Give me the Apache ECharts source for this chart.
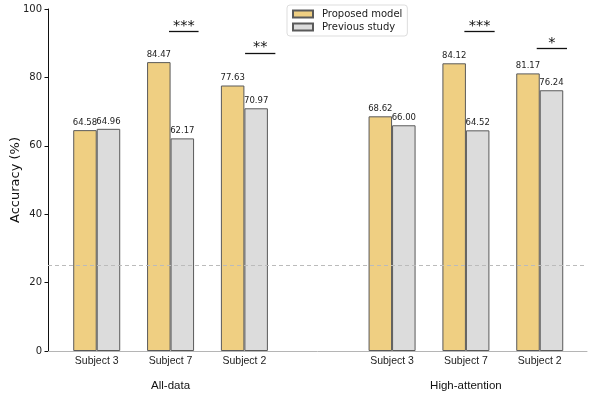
<!DOCTYPE html>
<html lang="en">
<head>
    <meta charset="UTF-8">
    <title>Accuracy chart</title>
    <script src="https://cdn.jsdelivr.net/npm/echarts@6/dist/echarts.min.js"></script>
    <style>
        html, body { margin: 0; padding: 0; background: #ffffff; }
        #main { width: 598px; height: 393px; }
    </style>
</head>
<body>
<div id="main"></div>
<script>
    // positions of the bar pairs on the x axis (3 is the gap between the two groups)
    var positions = [0, 1, 2, 4, 5, 6];
    var subjects = ['Subject 3', 'Subject 7', 'Subject 2', 'Subject 3', 'Subject 7', 'Subject 2'];
    var groupPos = [1, 5];
    var groupNames = ['All-data', 'High-attention'];
    var proposed = [64.58, 84.47, 77.63, 68.62, 84.12, 81.17];
    var previous = [64.96, 62.17, 70.97, 66.00, 64.52, 76.24];
    var yTicks = [0, 20, 40, 60, 80, 100];
    var chanceLevel = 25;
    // significance brackets: [from, to, height, stars]
    var sigFrom = [0.82, 1.85, 4.82, 5.8];
    var sigTo = [1.22, 2.26, 5.23, 6.21];
    var sigY = [93.4, 87.2, 93.4, 88.5];
    var sigStars = ['***', '**', '***', '*'];

    function pairs(vals) {
        return vals.map(function (v, i) { return [positions[i], v]; });
    }
    function nameAt(list, pos, names) {
        var i = list.indexOf(Math.round(pos));
        return i < 0 ? '' : names[i];
    }

    var sigLines = sigFrom.map(function (f, i) {
        return [
            { coord: [f, sigY[i]], label: { formatter: sigStars[i] } },
            { coord: [sigTo[i], sigY[i]] }
        ];
    });

    var labelStyle = {
        show: true,
        position: 'top',
        distance: 3,
        fontFamily: 'DejaVu Sans',
        fontSize: 8.5,
        color: '#222',
        formatter: function (p) { return p.value[1].toFixed(2); }
    };

    var myChart = echarts.init(document.getElementById('main'));
    var option = {
        animation: false,
        backgroundColor: '#ffffff',
        grid: { left: 48, right: 11, top: 9, bottom: 42, outerBoundsMode: 'none', containLabel: false },
        legend: {
            orient: 'vertical',
            left: 287,
            top: 5,
            data: ['Proposed model', 'Previous study'],
            itemWidth: 20,
            itemHeight: 7,
            itemGap: 3,
            padding: [4, 5, 4, 5],
            backgroundColor: '#ffffff',
            borderColor: '#dddddd',
            borderWidth: 1,
            borderRadius: 3,
            icon: 'rect',
            textStyle: { fontFamily: 'DejaVu Sans', fontSize: 10, color: '#222', padding: [0, 0, 0, 4] }
        },
        xAxis: [
            {
                type: 'value',
                min: -0.66,
                max: 6.64,
                splitLine: { show: false },
                axisLine: { show: true, onZero: false, lineStyle: { color: '#b5b5b5', width: 1 } },
                axisTick: { show: false },
                axisLabel: {
                    customValues: positions,
                    formatter: function (v) { return nameAt(positions, v, subjects); },
                    fontFamily: 'Liberation Sans',
                    fontSize: 10.5,
                    color: '#222',
                    margin: 5
                }
            },
            {
                type: 'value',
                min: -0.66,
                max: 6.64,
                position: 'bottom',
                offset: 24,
                splitLine: { show: false },
                axisLine: { show: false, onZero: false },
                axisTick: { show: false },
                axisLabel: {
                    customValues: groupPos,
                    formatter: function (v) { return nameAt(groupPos, v, groupNames); },
                    fontFamily: 'Liberation Sans',
                    fontSize: 11.5,
                    color: '#111',
                    margin: 5
                }
            }
        ],
        yAxis: {
            type: 'value',
            min: 0,
            max: 100,
            interval: 20,
            name: 'Accuracy (%)',
            nameLocation: 'middle',
            nameGap: 26,
            nameMoveOverlap: false,
            nameTextStyle: { fontFamily: 'DejaVu Sans', fontSize: 13, color: '#111' },
            splitLine: { show: false },
            axisLine: { show: true, onZero: false, lineStyle: { color: '#111', width: 1 } },
            axisTick: { show: true, length: 3.5, lineStyle: { color: '#111' } },
            axisLabel: {
                fontFamily: 'DejaVu Sans',
                fontSize: 10,
                color: '#222',
                margin: 6,
                customValues: yTicks
            }
        },
        series: [
            {
                name: 'Proposed model',
                type: 'bar',
                barWidth: 23.5,
                barGap: '0%',
                data: pairs(proposed),
                itemStyle: { color: '#EFCF82', borderColor: '#5a5a5a', borderWidth: 1 },
                label: labelStyle,
                markLine: {
                    silent: true,
                    symbol: 'none',
                    lineStyle: { color: '#bbbbbb', type: [4, 3], width: 1 },
                    label: { show: false },
                    data: [{ yAxis: chanceLevel }]
                }
            },
            {
                name: 'Previous study',
                type: 'bar',
                barWidth: 23.5,
                barGap: '0%',
                data: pairs(previous),
                itemStyle: { color: '#DCDCDC', borderColor: '#5a5a5a', borderWidth: 1 },
                label: labelStyle,
                markLine: {
                    silent: true,
                    symbol: 'none',
                    lineStyle: { color: '#111', type: 'solid', width: 1.3 },
                    label: {
                        show: true,
                        position: 'insideMiddleTop',
                        distance: -2,
                        fontFamily: 'DejaVu Sans',
                        fontSize: 14.5,
                        color: '#111'
                    },
                    data: sigLines
                }
            }
        ]
    };
    myChart.setOption(option);
</script>
</body>
</html>
